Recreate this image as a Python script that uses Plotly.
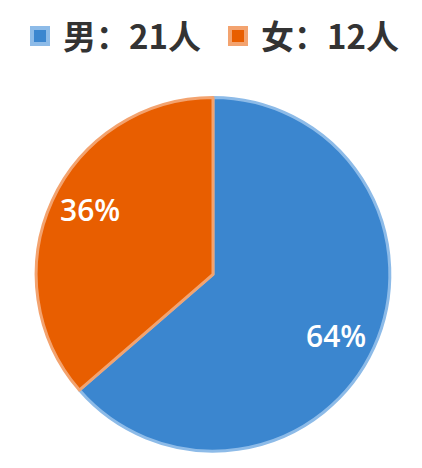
import math
import plotly.graph_objects as go

labels = ["男：21人", "女：12人"]
values = [21, 12]
colors = ["#3b86cf", "#e85e00"]
edge_colors = ["#8dbbe8", "#f3a36f"]

# page body has an 8px margin, so the figure is drawn 8px smaller
W, H = 414, 460
cx, cy, R = 205, 265, 178  # pie centre / radius in figure px (from top-left)

fig = go.Figure()
fig.add_trace(
    go.Pie(
        labels=labels,
        values=values,
        sort=False,
        direction="clockwise",
        rotation=0,
        marker=dict(colors=colors, line=dict(color=edge_colors, width=3)),
        textinfo="none",
        hoverinfo="label+percent",
        showlegend=False,
        domain=dict(x=[(cx - R) / W, (cx + R) / W], y=[(H - cy - R) / H, (H - cy + R) / H]),
    )
)

# legend entries with bigger square swatches
for lab, col, edge in zip(labels, colors, edge_colors):
    fig.add_trace(
        go.Scatter(
            x=[None],
            y=[None],
            mode="markers",
            name=lab,
            marker=dict(symbol="square", size=16, color=col, line=dict(color=edge, width=4)),
        )
    )

# percent labels placed out along each slice's middle angle
total = sum(values)
cum = 0
for v in values:
    ang = math.radians(360 * (cum + v / 2) / total + 2.7)
    cum += v
    px = cx + 0.776 * R * math.sin(ang)
    py = cy - 0.776 * R * math.cos(ang) - 1.5
    fig.add_annotation(
        x=px / W,
        y=1 - py / H,
        xref="paper",
        yref="paper",
        xanchor="center",
        yanchor="middle",
        text=f"{round(100 * v / total)}%",
        showarrow=False,
        font=dict(family="Open Sans", size=30, color="white", weight=600),
    )

fig.update_layout(
    width=W,
    height=H,
    margin=dict(l=0, r=0, t=0, b=0),
    paper_bgcolor="white",
    plot_bgcolor="white",
    xaxis=dict(visible=False),
    yaxis=dict(visible=False),
    showlegend=True,
    legend=dict(
        orientation="h",
        x=0.5,
        xanchor="center",
        y=1.0 + 3 / H,
        yanchor="top",
        font=dict(family="Noto Sans CJK SC", size=33, color="#333333", weight="bold"),
        entrywidth=147,
        itemwidth=36,
        traceorder="normal",
    ),
)
fig.write_html("out.html")
